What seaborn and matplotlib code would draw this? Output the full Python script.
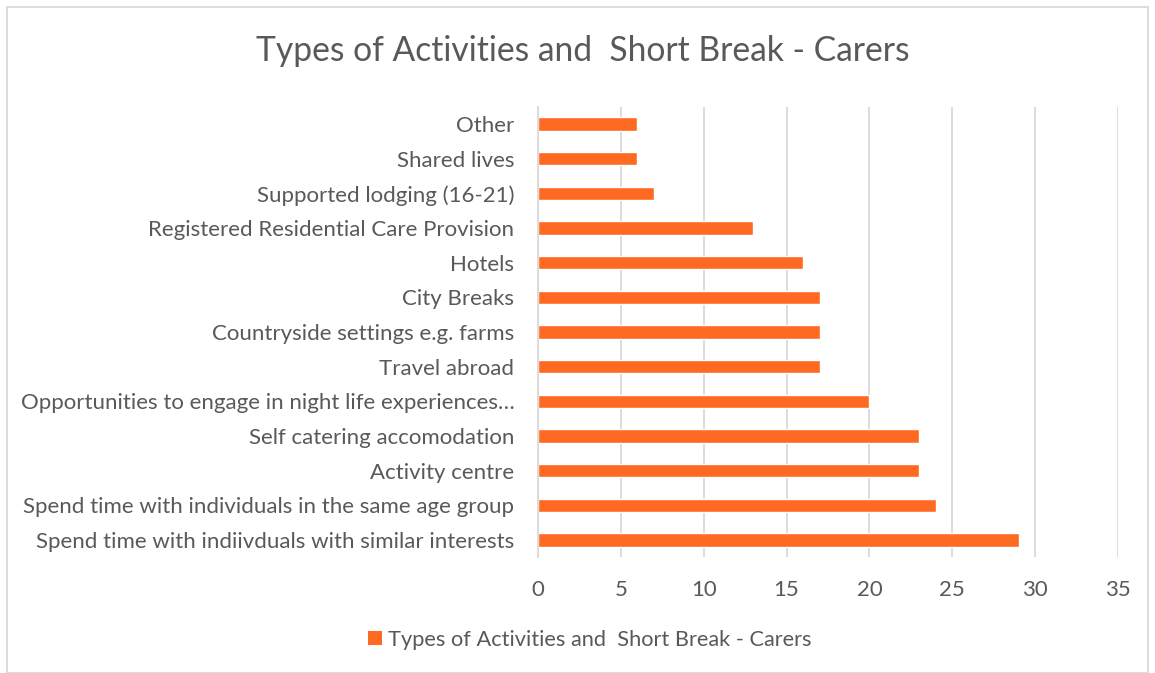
import matplotlib
matplotlib.use("Agg")
import matplotlib.pyplot as plt
import seaborn as sns
import pandas as pd
from matplotlib.patches import Rectangle

categories = [
    "Other",
    "Shared lives",
    "Supported lodging (16-21)",
    "Registered Residential Care Provision",
    "Hotels",
    "City Breaks",
    "Countryside settings e.g. farms",
    "Travel abroad",
    "Opportunities to engage in night life experiences\u2026",
    "Self catering accomodation",
    "Activity centre",
    "Spend time with individuals in the same age group",
    "Spend time with indiivduals with similar interests",
]
values = [6, 6, 7, 13, 16, 17, 17, 17, 20, 23, 23, 24, 29]
xticks = [0, 5, 10, 15, 20, 25, 30, 35]
series_name = "Types of Activities and  Short Break - Carers"
title = "Types of Activities and  Short Break - Carers"

sns.set_theme(style="white")
plt.rcParams["font.family"] = ["Lato", "DejaVu Sans"]

BAR = "#FF6A22"
TXT = "#595959"
GRID = "#D9D9D9"

df = pd.DataFrame({"category": categories, "value": values})

fig = plt.figure(figsize=(11.55, 6.73), dpi=100)
ax = fig.add_axes([538 / 1155, 1 - 557.3 / 673, (1118 - 538) / 1155, (557.3 - 106.7) / 673])

sns.barplot(data=df, x="value", y="category", color=BAR, width=0.38,
            saturation=1, ax=ax, orient="h")

ax.set_xlim(0, 35)
ax.set_xticks(xticks)
ax.set_xticklabels([str(t) for t in xticks])
ax.set_xlabel("")
ax.set_ylabel("")
ax.grid(axis="x", color=GRID, linewidth=1.3)
ax.set_axisbelow(True)
for s in ["top", "right", "bottom"]:
    ax.spines[s].set_visible(False)
ax.spines["left"].set_color(GRID)
ax.spines["left"].set_linewidth(1.3)
ax.tick_params(axis="y", length=0, pad=17, labelsize=16, labelcolor=TXT)
ax.tick_params(axis="x", length=0, pad=16, labelsize=16, labelcolor=TXT)

fig.text(583 / 1155, 1 - 51 / 673, title, ha="center", va="center",
         fontsize=24.2, color=TXT)

handle = Rectangle((0, 0), 1, 1, facecolor=BAR, edgecolor="none")
fig.legend([handle], [series_name], loc="center", bbox_to_anchor=(590 / 1155, 1 - 640 / 673),
           frameon=False, fontsize=15.7, labelcolor=TXT, handlelength=0.6, handleheight=0.6,
           handletextpad=0.3)

border = Rectangle((7 / 1155, 0), (1148 - 7) / 1155, 1 - 7 / 673, transform=fig.transFigure,
                   fill=False, edgecolor=GRID, linewidth=1.3)
fig.patches.append(border)

fig.savefig("out.png", dpi=100)
